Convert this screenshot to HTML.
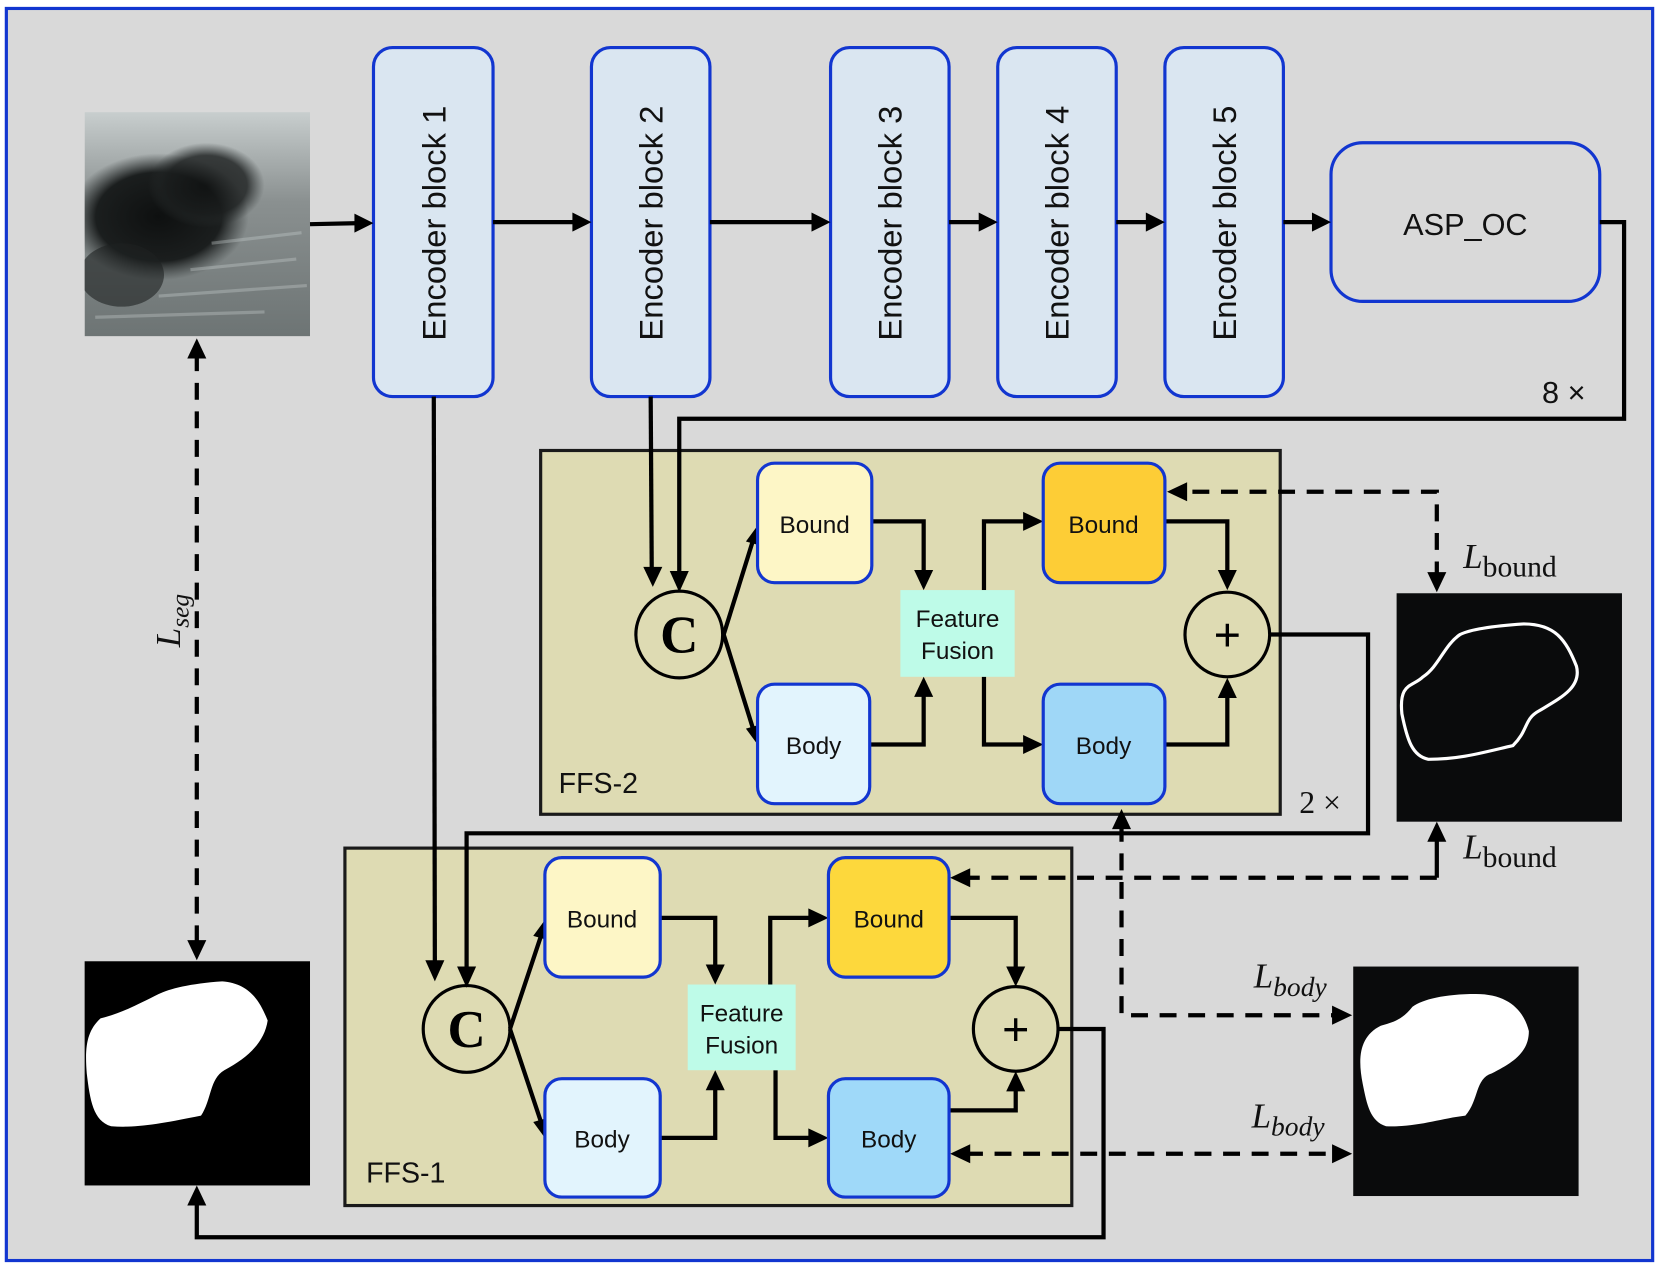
<!DOCTYPE html>
<html><head><meta charset="utf-8"><style>
html,body{margin:0;padding:0;background:#fff;}
svg{display:block;}
.t{font-family:"Liberation Sans",sans-serif;}
.s{font-family:"Liberation Serif",serif;}
</style></head><body>
<svg width="1659" height="1269" viewBox="0 0 1568 1200" preserveAspectRatio="none" xmlns="http://www.w3.org/2000/svg">
<defs>
<linearGradient id="bg" x1="0" y1="0" x2="0" y2="1">
<stop offset="0" stop-color="#c8cece"/><stop offset="0.4" stop-color="#8a9090"/><stop offset="1" stop-color="#6d7474"/>
</linearGradient>
<radialGradient id="blob" cx="0.5" cy="0.5" r="0.5">
<stop offset="0" stop-color="#0e1010"/><stop offset="0.7" stop-color="#1b1e1e"/><stop offset="1" stop-color="#2c3131" stop-opacity="0"/>
</radialGradient>
<clipPath id="uc"><rect x="80" y="106" width="213" height="212"/></clipPath>
</defs>
<rect x="0" y="0" width="1568" height="1200" fill="#fff"/>
<rect x="6" y="8" width="1556" height="1184" fill="#d9d9d9" stroke="#1236d0" stroke-width="3"/>

<!-- ultrasound -->
<g clip-path="url(#uc)">
<rect x="80" y="106" width="213" height="212" fill="url(#bg)"/>
<ellipse cx="150" cy="205" rx="85" ry="60" fill="url(#blob)"/>
<ellipse cx="195" cy="175" rx="55" ry="40" fill="url(#blob)" opacity="0.8"/>
<ellipse cx="115" cy="260" rx="40" ry="30" fill="#1e2222" opacity="0.6"/>
<g stroke="#c9d0d0" stroke-width="3" opacity="0.35">
<path d="M180,255 L280,245"/><path d="M150,280 L290,270"/><path d="M90,300 L250,295"/><path d="M200,230 L285,220"/>
</g>
</g>

<!-- encoder blocks -->
<g fill="#dae6f1" stroke="#1236d0" stroke-width="3">
<rect x="353" y="45" width="113" height="330" rx="18"/>
<rect x="559" y="45" width="112" height="330" rx="18"/>
<rect x="785" y="45" width="112" height="330" rx="18"/>
<rect x="943" y="45" width="112" height="330" rx="18"/>
<rect x="1101" y="45" width="112" height="330" rx="18"/>
</g>
<rect x="1258" y="135" width="254" height="150" rx="30" fill="none" stroke="#1236d0" stroke-width="3"/>
<g class="t" font-size="31" fill="#111" text-anchor="middle">
<text transform="translate(421,211) rotate(-90)">Encoder block 1</text>
<text transform="translate(626,211) rotate(-90)">Encoder block 2</text>
<text transform="translate(852,211) rotate(-90)">Encoder block 3</text>
<text transform="translate(1010,211) rotate(-90)">Encoder block 4</text>
<text transform="translate(1168,211) rotate(-90)">Encoder block 5</text>
<text x="1385" y="222" font-size="29">ASP_OC</text>
<text x="1478" y="381" font-size="29">8 ×</text>
</g>

<!-- FFS boxes -->
<rect x="511" y="426" width="699" height="344" fill="#dedbb3" stroke="#1a1a1a" stroke-width="3"/>
<rect x="326" y="802" width="687" height="338" fill="#dedbb3" stroke="#1a1a1a" stroke-width="3"/>
<text class="t" x="528" y="750" font-size="27" fill="#111">FFS-2</text>
<text class="t" x="346" y="1118" font-size="27" fill="#111">FFS-1</text>
<text class="s" x="1228" y="769" font-size="30" fill="#111">2 ×</text>

<!-- lines (solid) -->
<g fill="none" stroke="#000" stroke-width="4">
<path d="M293,212 L340,211"/>
<path d="M466,210 L546,210"/>
<path d="M671,210 L772,210"/>
<path d="M897,210 L930,210"/>
<path d="M1055,210 L1088,210"/>
<path d="M1213,210 L1245,210"/>
<path d="M1512,210 L1535,210 L1535,396 L642,396 L642,545"/>
<path d="M615,375 L616,542"/>
<path d="M410,375 L411,912"/>
<path d="M684,600 L712,510"/><path d="M684,600 L712,690"/>
<path d="M824,493 L873,493 L873,545"/>
<path d="M822,704 L873,704 L873,653"/>
<path d="M930,558 L930,493 L973,493"/>
<path d="M930,640 L930,704 L973,704"/>
<path d="M1101,493 L1160,493 L1160,545"/>
<path d="M1101,704 L1160,704 L1160,654"/>
<path d="M1201,600 L1293,600 L1293,788 L441,788 L441,920"/>
<path d="M482,973 L512,883"/><path d="M482,973 L512,1063"/>
<path d="M624,868 L676,868 L676,918"/>
<path d="M624,1076 L676,1076 L676,1025"/>
<path d="M728,931 L728,868 L770,868"/>
<path d="M733,1012 L733,1076 L770,1076"/>
<path d="M897,868 L960,868 L960,920"/>
<path d="M897,1050 L960,1050 L960,1026"/>
<path d="M1000,973 L1043,973 L1043,1170 L186,1170 L186,1135"/>
<path d="M1358,830 L1358,792"/>
</g>
<!-- dashed -->
<g fill="none" stroke="#000" stroke-width="4" stroke-dasharray="16,11">
<path d="M186,335 L186,893"/>
<path d="M1358,547 L1358,465 L1118,465"/>
<path d="M1358,830 L913,830"/>
<path d="M1060,780 L1060,960 L1264,960"/>
<path d="M913,1091 L1264,1091"/>
</g>
<!-- arrowheads -->
<g fill="#000">
<polygon points="353,211 335,202 335,220"/>
<polygon points="559,210 541,201 541,219"/>
<polygon points="785,210 767,201 767,219"/>
<polygon points="943,210 925,201 925,219"/>
<polygon points="1101,210 1083,201 1083,219"/>
<polygon points="1258,210 1240,201 1240,219"/>
<polygon points="642,560 633,540 651,540"/>
<polygon points="617,555 608,536 626,536"/>
<polygon points="411,928 402,908 420,908"/>
<polygon points="441,934 432,914 450,914"/>
<polygon points="716,497 705,512 719,516"/>
<polygon points="716,704 705,689 719,685"/>
<polygon points="515,870 504,885 518,889"/>
<polygon points="515,1076 504,1061 518,1057"/>
<polygon points="873,558 864,539 882,539"/>
<polygon points="873,640 864,659 882,659"/>
<polygon points="986,493 967,484 967,502"/>
<polygon points="986,704 967,695 967,713"/>
<polygon points="1160,558 1151,539 1169,539"/>
<polygon points="1160,641 1151,660 1169,660"/>
<polygon points="676,931 667,912 685,912"/>
<polygon points="676,1012 667,1031 685,1031"/>
<polygon points="783,868 764,859 764,877"/>
<polygon points="783,1076 764,1067 764,1085"/>
<polygon points="960,933 951,914 969,914"/>
<polygon points="960,1013 951,1032 969,1032"/>
<polygon points="186,1121 177,1140 195,1140"/>
<polygon points="186,320 177,339 195,339"/>
<polygon points="186,908 177,889 195,889"/>
<polygon points="1358,560 1349,541 1367,541"/>
<polygon points="1103,465 1122,456 1122,474"/>
<polygon points="1358,777 1349,796 1367,796"/>
<polygon points="898,830 917,821 917,839"/>
<polygon points="1060,765 1051,784 1069,784"/>
<polygon points="1278,960 1259,951 1259,969"/>
<polygon points="898,1091 917,1082 917,1100"/>
<polygon points="1278,1091 1259,1082 1259,1100"/>
</g>

<!-- inner nodes -->
<g stroke="#1236d0" stroke-width="3">
<rect x="716" y="438" width="108" height="113" rx="16" fill="#fdf6c6"/>
<rect x="716" y="647" width="106" height="113" rx="16" fill="#e2f4fd"/>
<rect x="986" y="438" width="115" height="113" rx="16" fill="#fdcd36"/>
<rect x="986" y="647" width="115" height="113" rx="16" fill="#9fd7f7"/>
<rect x="515" y="811" width="109" height="113" rx="16" fill="#fdf6c6"/>
<rect x="515" y="1020" width="109" height="112" rx="16" fill="#e2f4fd"/>
<rect x="783" y="811" width="114" height="113" rx="16" fill="#fdd83c"/>
<rect x="783" y="1020" width="114" height="112" rx="16" fill="#9fd9f9"/>
</g>
<rect x="851" y="558" width="108" height="82" fill="#befbe8"/>
<rect x="650" y="931" width="102" height="81" fill="#befbe8"/>
<g fill="none" stroke="#000" stroke-width="3">
<circle cx="642" cy="600" r="41"/><circle cx="1160" cy="600" r="40"/>
<circle cx="441" cy="973" r="41"/><circle cx="960" cy="973" r="40"/>
</g>
<g class="s" font-weight="bold" font-size="50" text-anchor="middle" fill="#000">
<text x="642" y="617">C</text><text x="441" y="990">C</text>
</g>
<g class="t" font-size="44" text-anchor="middle" fill="#000">
<text x="1160" y="615">+</text><text x="960" y="988">+</text>
</g>
<g class="t" font-size="23" text-anchor="middle" fill="#111">
<text x="770" y="504">Bound</text><text x="769" y="713">Body</text>
<text x="1043" y="504">Bound</text><text x="1043" y="713">Body</text>
<text x="569" y="877">Bound</text><text x="569" y="1085">Body</text>
<text x="840" y="877">Bound</text><text x="840" y="1085">Body</text>
<text x="905" y="593">Feature</text><text x="905" y="623">Fusion</text>
<text x="701" y="966">Feature</text><text x="701" y="996">Fusion</text>
</g>

<!-- boundary image -->
<rect x="1320" y="561" width="213" height="216" fill="#0a0b0c"/>
<path d="M1345,640 C1335,650 1322,645 1325,675 C1330,700 1335,715 1350,718 C1380,718 1400,712 1430,705 C1445,690 1440,680 1455,672 C1475,660 1495,650 1490,630 C1480,605 1470,590 1440,590 C1410,592 1390,595 1380,600 C1365,610 1360,630 1345,640 Z" fill="none" stroke="#fff" stroke-width="3"/>
<!-- body image -->
<rect x="1279" y="914" width="213" height="217" fill="#0a0b0c"/>
<path d="M1305,970 C1285,980 1283,1000 1288,1025 C1292,1045 1295,1060 1310,1065 C1340,1066 1360,1058 1385,1055 C1398,1040 1394,1020 1410,1015 C1430,1005 1445,995 1445,975 C1440,955 1425,940 1395,940 C1365,940 1345,945 1335,952 C1325,965 1315,967 1305,970 Z" fill="#fff"/>
<!-- mask image -->
<rect x="80" y="909" width="213" height="212" fill="#000"/>
<path d="M95,963 C82,975 80,990 82,1015 C85,1040 88,1060 105,1065 C130,1067 155,1062 190,1055 C200,1040 198,1020 212,1012 C235,1000 250,985 253,965 C245,945 235,930 210,928 C180,930 160,935 150,940 C130,950 115,958 95,963 Z" fill="#fff"/>

<!-- loss labels -->
<g class="s" fill="#111">
<text transform="translate(170,612) rotate(-90)" font-size="33" font-style="italic">L<tspan font-size="24" dy="8">seg</tspan></text>
<text x="1383" y="537" font-size="33" font-style="italic">L<tspan font-size="28" font-style="normal" dy="8">bound</tspan></text>
<text x="1383" y="812" font-size="33" font-style="italic">L<tspan font-size="28" font-style="normal" dy="8">bound</tspan></text>
<text x="1185" y="934" font-size="33" font-style="italic">L<tspan font-size="26" dy="8">body</tspan></text>
<text x="1183" y="1066" font-size="33" font-style="italic">L<tspan font-size="26" dy="8">body</tspan></text>
</g>
</svg>
</body></html>
